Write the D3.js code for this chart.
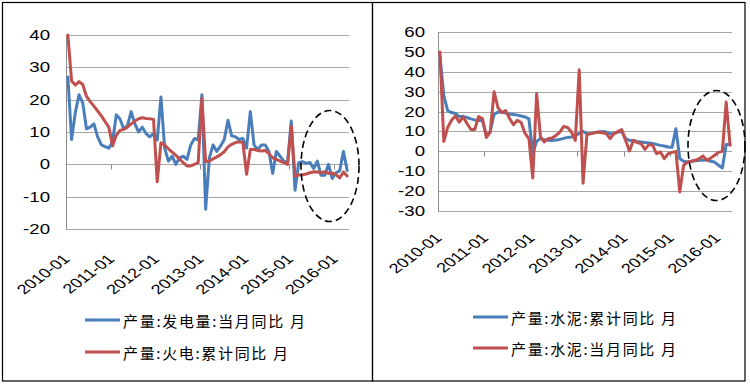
<!DOCTYPE html>
<html>
<head>
<meta charset="utf-8">
<script src="https://cdn.jsdelivr.net/npm/d3@7"></script>
<style>
  body { margin: 0; background: #fff; }
  svg { display: block; }
  .tick-label { font-family: "Liberation Sans", Arial, sans-serif; font-size: 14px; fill: #000; }
  .xtick-label { font-family: "Liberation Sans", Arial, sans-serif; font-size: 13.5px; fill: #000; }
  .legend-label { font-family: "Noto Sans CJK SC", sans-serif; font-size: 15px; fill: #000; }
</style>
</head>
<body>
<svg id="canvas"></svg>
<script>
// categories: monthly, 2010-01 .. 2016-04
const months = [];
for (let y = 2010; y <= 2016; y++) {
  for (let m = 1; m <= 12; m++) {
    if (months.length < 76) months.push(y + "-" + String(m).padStart(2, "0"));
  }
}
const yearLabels = ["2010-01", "2011-01", "2012-01", "2013-01", "2014-01", "2015-01", "2016-01"];

// left chart
const powerYoY = [27, 7.7, 16, 21.5, 19, 11, 11.5, 12.5, 8.5, 6, 5.5, 5,
  7, 15.3, 14, 11, 12, 16.3, 12.5, 10, 11.5, 9.5, 8.5, 9.5,
  7.5, 20.8, 5, 1, 2.5, 0, 2, 2.5, 1.5, 6, 8, 7.5,
  21.5, -13.9, 2, 6, 4, 5.7, 7.7, 13.6, 8.8, 8.5, 7.7, 8,
  5, 16.3, 6, 4.5, 6, 6, 4, -2.8, 4, 2.5, 1, 0.5,
  13.4, -8, 0.5, 0.8, 0.3, 0.6, -1.3, 1, -3.4, -3.4, 0, -4.4,
  -2.6, -2, 4, -1.9];
const thermalCumYoY = [40, 25.8, 24.5, 25.6, 24.7, 21, 19.4, 18, 16.5, 15, 13.2, 11.5,
  5.7, 9, 10.5, 10.8, 11.5, 12.5, 13.4, 14.1, 14.4, 14.2, 14.1, 13.9,
  -5.4, 6.7, 6, 4.8, 3.8, 2.8, 1.6, 0.5, -0.5, -0.5, 0, 0.5,
  20.4, 0.8, 1, 1.7, 2.3, 3, 3.9, 5.4, 6.2, 6.7, 7, 6.7,
  -3.1, 4.6, 4.6, 4.3, 4.1, 4.3, 3.3, 2, 1.5, 1, 0.5, 0,
  11.8, -3.6, -3.3, -3.2, -3, -2.6, -2.3, -2.4, -2.6, -2.3, -2.8, -2.7,
  -3.2, -4.2, -2.4, -3.6];

// right chart
const cementCumYoY = [48, 28, 20.5, 19.5, 19, 17.5, 17.5, 17, 16.3, 15.8, 15.5, 15.5,
  8, 10, 18.5, 19.8, 19.7, 19.3, 18.8, 18.5, 18.2, 17.8, 17.3, 16.3,
  -1, 5, 6.5, 5.8, 5.6, 5.5, 5.7, 6, 6.5, 7, 7.2, 7.8,
  9, 10, 8.9, 8.9, 9.4, 9.7, 10, 9.7, 8.9, 8.9, 9.7, 10,
  6.4, 5.5, 5.5, 5, 4.7, 4.4, 4.2, 3.9, 3.5, 3, 2.7, 2.2,
  2, 11.4, -3.7, -5, -5.4, -5, -4.7, -4.5, -4.5, -4.2, -5, -5.4,
  -7, -8.4, 3.4, 3.4];
const cementMonthYoY = [50, 5, 12, 15.6, 17.8, 14.7, 17.3, 14, 11, 11, 17.5, 16.5,
  7, 9.7, 30, 22, 19.5, 20.5, 16.5, 13.4, 15.6, 14.5, 9, 6.4,
  -13.4, 29, 7.2, 4.7, 6.4, 6.7, 8, 9.7, 12.5, 12, 9.7, 5.5,
  41, -16, 8.4, 8.9, 9.3, 9.7, 9.3, 8.9, 6.4, 8.9, 10, 10.9,
  5.5, 0.2, 5.5, 4.4, 3.9, 1, 3.4, 3, -1.2, -0.3, -3.7, -1.2,
  -0.5, 0, -20.4, -7, -5.4, -5, -4.5, -3.7, -2.3, -4.5, -3.4, -2,
  -0.5, 0, 24.8, 3];

const leftTicks = [-20, -10, 0, 10, 20, 30, 40];
const rightTicks = [-30, -20, -10, 0, 10, 20, 30, 40, 50, 60];

const leftNames = ["产量:发电量:当月同比 月", "产量:火电:累计同比 月"];
const rightNames = ["产量:水泥:累计同比 月", "产量:水泥:当月同比 月"];

const BLUE = "#4a7ebb", RED = "#c0504d";
const SX = 1.33; // the picture is stretched horizontally

const svg = d3.select("#canvas").attr("width", 750).attr("height", 385);

// panel frames
svg.append("rect").attr("x", 2.5).attr("y", 2.5).attr("width", 370).attr("height", 378.5)
  .attr("fill", "none").attr("stroke", "#000").attr("stroke-width", 1.2);
svg.append("rect").attr("x", 372.5).attr("y", 2.5).attr("width", 372.5).attr("height", 378.5)
  .attr("fill", "none").attr("stroke", "#000").attr("stroke-width", 1.2);

function drawChart(opt) {
  const g = svg.append("g");
  const x = d3.scaleBand().domain(months).range([opt.left, opt.right]).paddingInner(0).paddingOuter(0);
  const y = d3.scaleLinear().domain(opt.domain).range([opt.bottom, opt.top]);
  const cx = d => x(d) + x.bandwidth() / 2;

  // gridlines
  g.selectAll(".grid").data(opt.ticks).join("line")
    .attr("x1", opt.left).attr("x2", opt.right)
    .attr("y1", d => Math.round(y(d)) + 0.5).attr("y2", d => Math.round(y(d)) + 0.5)
    .attr("stroke", "#a6a6a6").attr("stroke-width", 1);

  // y axis line
  g.append("line").attr("x1", opt.left + 0.5).attr("x2", opt.left + 0.5)
    .attr("y1", y(opt.domain[1])).attr("y2", y(opt.domain[0]))
    .attr("stroke", "#8c8c8c");

  // y tick labels
  g.selectAll(".ylab").data(opt.ticks).join("text")
    .attr("class", "tick-label")
    .attr("text-anchor", "end")
    .attr("dy", "0.36em")
    .attr("transform", d => `translate(${opt.labelRight},${y(d)}) scale(${SX},1)`)
    .text(d => d);

  // category ticks on the zero line, every 12 months
  const y0 = Math.round(y(0)) + 0.5;
  g.selectAll(".xtick").data(yearLabels).join("line")
    .attr("x1", d => Math.round(x(d)) + 0.5).attr("x2", d => Math.round(x(d)) + 0.5)
    .attr("y1", y0).attr("y2", y0 + 5)
    .attr("stroke", "#8c8c8c");

  // x labels, rotated
  g.selectAll(".xlab").data(yearLabels).join("text")
    .attr("class", "xtick-label")
    .attr("text-anchor", "end")
    .attr("transform", d => `translate(${cx(d) + opt.labelDx},${opt.labelY}) scale(${SX},1) rotate(-45)`)
    .text(d => d);

  // series
  opt.series.forEach(s => {
    const line = d3.line().x((d, i) => cx(months[i])).y(d => y(d));
    g.append("path").datum(s.values)
      .attr("d", line)
      .attr("fill", "none")
      .attr("stroke", s.color)
      .attr("stroke-width", 3)
      .attr("stroke-linejoin", "round")
      .attr("stroke-linecap", "round");
  });

  // legend
  opt.series.forEach((s, k) => {
    const ly = opt.legendY + k * opt.legendGap;
    g.append("line").attr("x1", opt.legendX).attr("x2", opt.legendX + 35)
      .attr("y1", ly).attr("y2", ly)
      .attr("stroke", s.color).attr("stroke-width", 3);
    g.append("text").attr("class", "legend-label")
      .attr("x", opt.legendX + 38).attr("y", ly)
      .attr("dominant-baseline", "central")
      .attr("textLength", opt.legendLen[k]).attr("lengthAdjust", "spacing")
      .text(s.name);
  });

  // dashed ellipse around the latest months
  g.append("ellipse")
    .attr("cx", opt.ellipse[0]).attr("cy", opt.ellipse[1])
    .attr("rx", opt.ellipse[2]).attr("ry", opt.ellipse[3])
    .attr("fill", "none").attr("stroke", "#000")
    .attr("stroke-width", 1.6).attr("stroke-dasharray", "7,4");
}

drawChart({
  left: 66, right: 349, top: 35, bottom: 229,
  domain: [-20, 40], ticks: leftTicks, labelRight: 50,
  labelY: 260, labelDx: 3,
  series: [
    { name: leftNames[0], values: powerYoY, color: BLUE },
    { name: leftNames[1], values: thermalCumYoY, color: RED }
  ],
  legendX: 85, legendY: 320, legendGap: 32, legendLen: [182, 165],
  ellipse: [330, 166, 29, 55.5]
});

drawChart({
  left: 438, right: 732, top: 32, bottom: 211,
  domain: [-30, 60], ticks: rightTicks, labelRight: 425,
  labelY: 239, labelDx: 3,
  series: [
    { name: rightNames[0], values: cementCumYoY, color: BLUE },
    { name: rightNames[1], values: cementMonthYoY, color: RED }
  ],
  legendX: 473, legendY: 317, legendGap: 31, legendLen: [165, 165],
  ellipse: [716.5, 145.5, 28.5, 55]
});
</script>
</body>
</html>
